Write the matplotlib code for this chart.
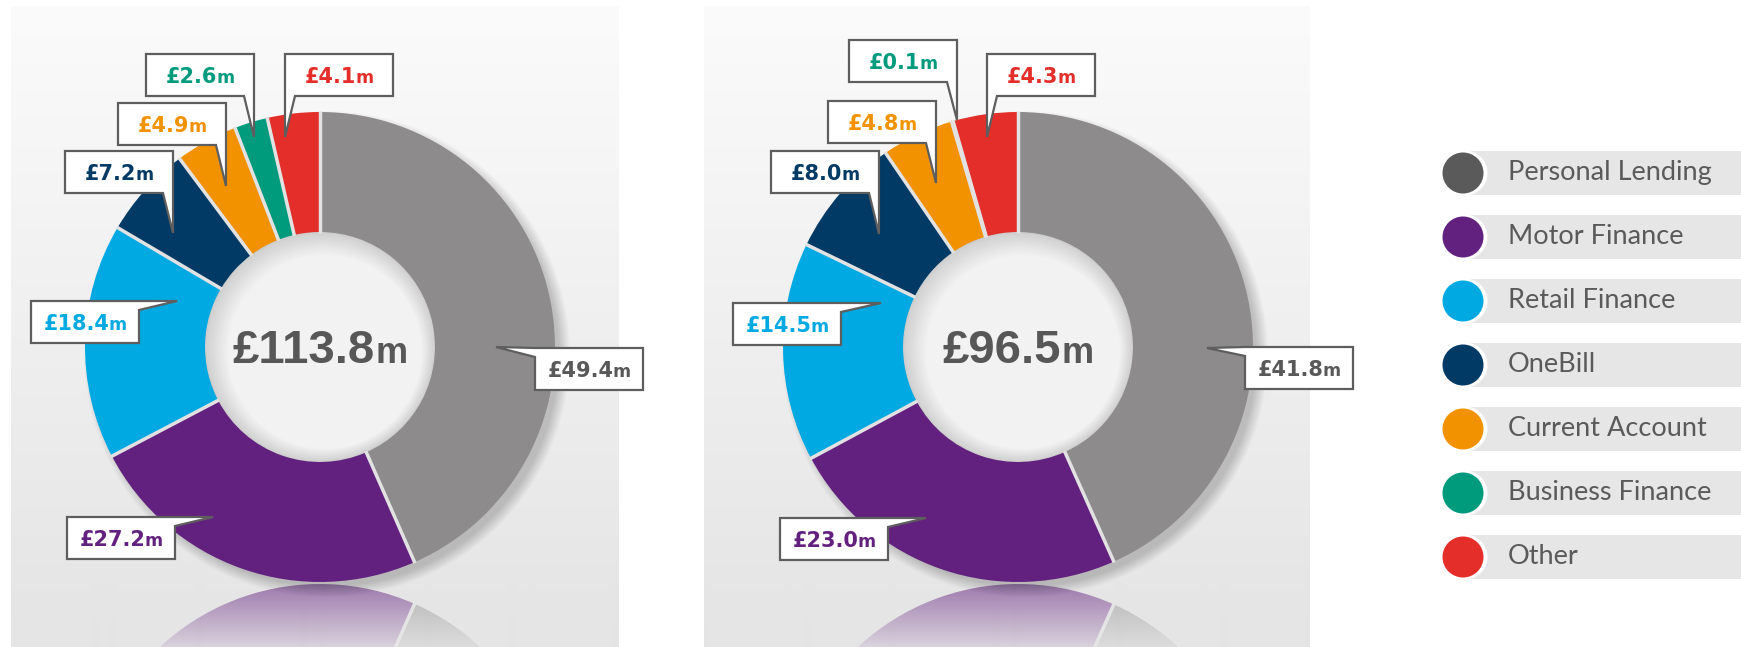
import numpy as np
import matplotlib
matplotlib.use('Agg')
import matplotlib.pyplot as plt
from matplotlib import font_manager
from matplotlib.patches import Circle, Rectangle, Polygon
from matplotlib.colors import to_rgb

# --- DATA ---
SEGMENTS = ['Personal Lending', 'Motor Finance', 'Retail Finance', 'OneBill',
            'Current Account', 'Business Finance', 'Other']
VALUES_A = [49.4, 27.2, 18.4, 7.2, 4.9, 2.6, 4.1]
VALUES_B = [41.8, 23.0, 14.5, 8.0, 4.8, 0.1, 4.3]
TOTAL_A = 113.8
TOTAL_B = 96.5

# --- STYLE / LAYOUT (pixel coords, y measured from the top) ---
W, H = 1741, 647
SLICE_COLORS = ['#8d8b8c', '#63217f', '#00a9e2', '#003a65', '#f39200', '#009a7c', '#e42e29']
LEGEND_COLORS = ['#5a5a5a'] + SLICE_COLORS[1:]
TEXT_COLORS = ['#595959'] + SLICE_COLORS[1:]
GREY_TEXT = '#575757'
GAP_COLOR = '#e2e2e2'

R_OUT, R_IN = 235, 115
CENTERS = [(320, 347), (1018, 347)]
PANELS = [(11, 619), (704, 1310)]
PANEL_TOP = 6
MIRROR_Y = 583

BOX_W, BOX_H = 108, 42
TAIL_KIND = ['left', 'right', 'right', 'down', 'down', 'down', 'downleft']
LABEL_BOX_A = [(535, 348), (67, 517), (31, 301), (65, 151), (118, 103), (146, 54), (285, 54)]
LABEL_TIP_A = [(496, 347), (213, 517), (177, 301), (173, 233), (226, 186), (254, 137), (285, 137)]
LABEL_BOX_B = [(1245, 347), (780, 518), (733, 303), (771, 151), (828, 101), (849, 40), (987, 54)]
LABEL_TIP_B = [(1207, 348), (926, 518), (881, 303), (879, 234), (936, 183), (957, 120), (987, 137)]

LABEL_FONT = ['DejaVu Sans']
LEGEND_FONT = ['Lato', 'DejaVu Sans']

# pick a narrow family for the big totals if one is installed
_installed = {f.name for f in font_manager.fontManager.ttflist}
if 'Liberation Sans Narrow' in _installed:
    CENTER_FONT, CENTER_SIZE, CENTER_M = ['Liberation Sans Narrow', 'DejaVu Sans'], 40, 30
else:
    CENTER_FONT, CENTER_SIZE, CENTER_M = ['Liberation Sans', 'DejaVu Sans'], 34, 26


def Y(y):
    return H - y


def callout(ax, left, top, tip, kind):
    L, T, R, B = left, top, left + BOX_W, top + BOX_H
    if kind == 'left':
        pts = [(L, T), (R, T), (R, B), (L, B), (L, T + 9), tip]
    elif kind == 'right':
        pts = [(L, T), tip, (R, T + 9), (R, B), (L, B)]
    elif kind == 'down':
        pts = [(L, T), (R, T), tip, (R - 10, B), (L, B)]
    else:
        pts = [(L, T), (R, T), (R, B), (L + 10, B), tip]
    ax.add_patch(Polygon([(x, Y(y)) for x, y in pts], closed=True, facecolor='white',
                         edgecolor='#5e5e5e', linewidth=1.6, joinstyle='miter', zorder=8))


def two_part_text(ax, renderer, cx, baseline, big, small, color, big_kw, small_kw, gap=1):
    t1 = ax.text(0, Y(baseline), big, color=color, ha='left', va='baseline', zorder=9, **big_kw)
    t2 = ax.text(0, Y(baseline), small, color=color, ha='left', va='baseline', zorder=9, **small_kw)
    w1 = t1.get_window_extent(renderer).width
    w2 = t2.get_window_extent(renderer).width
    x0 = cx - (w1 + w2 + gap) / 2
    t1.set_x(x0)
    t2.set_x(x0 + w1 + gap)


def donut(ax, values, center, startangle, counterclock, zorder, clip=None):
    wedges, _ = ax.pie(values, colors=SLICE_COLORS, startangle=startangle,
                       counterclock=counterclock, radius=R_OUT, center=center,
                       wedgeprops=dict(width=R_OUT - R_IN, linewidth=0))
    for w in wedges:
        w.set_zorder(zorder)
        if clip is not None:
            w.set_clip_path(clip)
    # light separators between the slices
    sign = 1 if counterclock else -1
    cum = np.concatenate([[0], np.cumsum(values)]) / np.sum(values)
    for frac in cum[:-1]:
        th = np.deg2rad(startangle + sign * 360 * frac)
        xs = center[0] + np.array([R_IN - 1, R_OUT + 1]) * np.cos(th)
        ys = center[1] + np.array([R_IN - 1, R_OUT + 1]) * np.sin(th)
        ln, = ax.plot(xs, ys, color=GAP_COLOR, lw=2.5, solid_capstyle='butt', zorder=zorder + 0.1)
        if clip is not None:
            ln.set_clip_path(clip)


def main():
    fig = plt.figure(figsize=(W / 100, H / 100), dpi=100)
    ax = fig.add_axes([0, 0, 1, 1])
    renderer = fig.canvas.get_renderer()

    # 1. Panels with a soft vertical gradient
    top_c = np.array(to_rgb('#fbfbfb'))
    bot_c = np.array(to_rgb('#e4e4e4'))
    ramp = np.linspace(0, 1, 256)[:, None, None]
    grad = top_c + (bot_c - top_c) * ramp
    panel_rects = []
    for x0, x1 in PANELS:
        ax.imshow(grad, extent=(x0, x1, 0, Y(PANEL_TOP)), aspect='auto', zorder=0,
                  interpolation='bilinear')
        r = Rectangle((x0, 0), x1 - x0, Y(PANEL_TOP), facecolor='none', lw=0)
        ax.add_patch(r)
        panel_rects.append(r)

    charts = [(VALUES_A, TOTAL_A, LABEL_BOX_A, LABEL_TIP_A),
              (VALUES_B, TOTAL_B, LABEL_BOX_B, LABEL_TIP_B)]

    for idx, (values, total, boxes, tips) in enumerate(charts):
        cx, cy = CENTERS[idx]
        panel = panel_rects[idx]
        x0, x1 = PANELS[idx]

        # Reflection below the donut
        donut(ax, values, (cx, Y(2 * MIRROR_Y - cy)), -90, True, 1, clip=panel)
        fade = np.zeros((64, 1, 4))
        fade[..., :3] = to_rgb('#e6e6e6')
        fade[..., 3] = np.linspace(0.45, 0.9, 64)[:, None]
        ax.imshow(fade, extent=(x0, x1, 0, Y(MIRROR_Y)), aspect='auto', zorder=1.5,
                  interpolation='bilinear')

        # Soft drop shadow, cast to the lower right
        for k in range(12):
            ax.add_patch(Circle((cx + 7, Y(cy) - 7), R_OUT + 8 - k, facecolor='black',
                                alpha=0.017, lw=0, zorder=2))

        # Hole with inner shading
        hole = Circle((cx, Y(cy)), R_IN, facecolor='#cdcdcd', lw=0, zorder=3)
        ax.add_patch(hole)
        c0 = np.array(to_rgb('#d0d0d0'))
        c1 = np.array(to_rgb('#f2f2f2'))
        n = 18
        for k in range(n):
            f = (k + 1) / n
            c = Circle((cx + 5 * f, Y(cy) - 5 * f), R_IN - 1.0 * (k + 1),
                       facecolor=c0 + (c1 - c0) * f, lw=0, zorder=3)
            ax.add_patch(c)
            c.set_clip_path(hole)

        # Donut
        donut(ax, values, (cx, Y(cy)), 90, False, 4)

        # Total in the middle
        two_part_text(ax, renderer, cx, 363, f'£{total:.1f}', 'm', GREY_TEXT,
                      dict(fontsize=CENTER_SIZE, fontweight='bold', family=CENTER_FONT),
                      dict(fontsize=CENTER_M, fontweight='bold', family=CENTER_FONT), gap=0)

        # Callouts
        for v, (bl, bt), tip, kind, col in zip(values, boxes, tips, TAIL_KIND, TEXT_COLORS):
            callout(ax, bl, bt, tip, kind)
            two_part_text(ax, renderer, bl + BOX_W / 2, bt + 29, f'£{v:.1f}', 'm', col,
                          dict(fontsize=15, fontweight='bold', family=LABEL_FONT),
                          dict(fontsize=12.5, fontweight='bold', family=LABEL_FONT), gap=-1)

    # 2. Legend
    for i, (name, col) in enumerate(zip(SEGMENTS, LEGEND_COLORS)):
        yc = 173 + 64 * i
        ax.add_patch(Rectangle((1463, Y(yc) - 22), W - 1463, 44, facecolor='#e6e6e6',
                               lw=0, zorder=5))
        ax.add_patch(Circle((1465, Y(yc)), 22.5, facecolor='white', lw=0, zorder=6))
        ax.add_patch(Circle((1463, Y(yc)), 20.5, facecolor=col, lw=0, zorder=7))
        ax.text(1508, Y(yc + 7), name, ha='left', va='baseline', fontsize=19.5,
                color='#5a5a5a', family=LEGEND_FONT, zorder=8)

    ax.set_xlim(0, W)
    ax.set_ylim(0, H)
    ax.set_aspect('auto')
    ax.axis('off')
    fig.savefig('out.png', dpi=100, facecolor='white')
    plt.close(fig)


if __name__ == '__main__':
    main()
